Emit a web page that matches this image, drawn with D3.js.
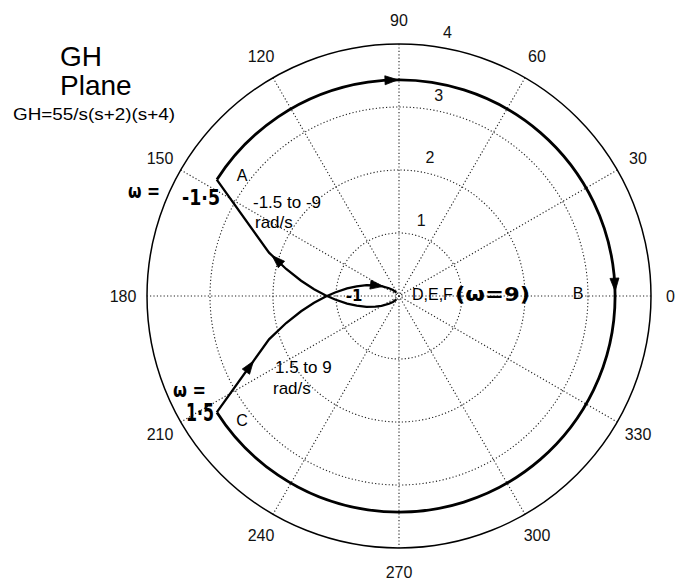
<!DOCTYPE html>
<html><head><meta charset="utf-8">
<script src="https://cdn.jsdelivr.net/npm/d3@7"></script>
<style>body{margin:0;background:#fff}svg{display:block}</style>
</head><body><svg id="c" width="676" height="582"></svg>
<script>
// ---------- data ----------
const angleTicks = [0, 30, 60, 90, 120, 150, 180, 210, 240, 270, 300, 330];
const angleTickLabels = ["0", "30", "60", "90", "120", "150", "180", "210", "240", "270", "300", "330"];
const ringValues = [1, 2, 3, 4];
const ringLabels = ["1", "2", "3", "4"];
const rMax = 4;

// positive-frequency branch, omega = 1.5 .. 9 rad/s  (Re, Im of GH)
const omegaPos = [1.5, 2, 2.2, 2.4, 2.6, 2.8, 3, 3.3, 3.6, 4, 4.5, 5, 6, 7, 9];
const rePos = [-2.893, -2.063, -1.791, -1.554, -1.348, -1.169, -1.015, -0.824, -0.672, -0.516, -0.375, -0.278, -0.159, -0.096, -0.040];
const imPos = [-1.848, -0.688, -0.429, -0.242, -0.107, -0.011, 0.056, 0.120, 0.154, 0.172, 0.170, 0.157, 0.123, 0.094, 0.054];

// negative-frequency branch, omega = -1.5 .. -9 rad/s
const omegaNeg = [-1.5, -2, -2.2, -2.4, -2.6, -2.8, -3, -3.3, -3.6, -4, -4.5, -5, -6, -7, -9];
const reNeg = [-2.893, -2.063, -1.791, -1.554, -1.348, -1.169, -1.015, -0.824, -0.672, -0.516, -0.375, -0.278, -0.159, -0.096, -0.040];
const imNeg = [1.848, 0.688, 0.429, 0.242, 0.107, 0.011, -0.056, -0.120, -0.154, -0.172, -0.170, -0.157, -0.123, -0.094, -0.054];

// large arc A -> B -> C (mapping of the small indentation around s = 0)
const arcRadius = 3.43;
const arcStartDeg = 147.4;
const arcEndDeg = -147.4;
const arcArrowDeg = [92, 3];

// arrows on the branches
const branchArrowSeg = [0, 1, 10];
const branchArrowFrac = [0.63, 0.45, 0.25];
const branchArrowBranch = ["pos", "neg", "pos"];
const branchArrowReverse = [false, true, false];

// ---------- drawing ----------
const svg = d3.select("#c");
svg.append("rect").attr("width", 676).attr("height", 582).attr("fill", "#fff");
const cx = 399, cy = 296, R = 252;
const x = d3.scaleLinear().domain([-rMax, rMax]).range([cx - R, cx + R]);
const y = d3.scaleLinear().domain([-rMax, rMax]).range([cy + R, cy - R]);
const r = d3.scaleLinear().domain([0, rMax]).range([0, R]);
const rad = d => d * Math.PI / 180;
const px = (v, deg) => x(v * Math.cos(rad(deg)));
const py = (v, deg) => y(v * Math.sin(rad(deg)));
const FONT = "Liberation Sans, Arial, Helvetica, sans-serif";
const HAND = "DejaVu Sans, sans-serif";

const grid = svg.append("g").attr("stroke", "#222").attr("stroke-width", 1.1)
  .attr("stroke-dasharray", "1.2,2.2").attr("fill", "none");
// spokes
grid.selectAll("line").data(angleTicks.filter(a => a < 180)).join("line")
  .attr("x1", a => px(rMax, a)).attr("y1", a => py(rMax, a))
  .attr("x2", a => px(rMax, a + 180)).attr("y2", a => py(rMax, a + 180));
// dotted rings
grid.selectAll("circle").data(ringValues.filter(v => v < rMax)).join("circle")
  .attr("cx", cx).attr("cy", cy).attr("r", v => r(v));
// outer solid circle
svg.append("circle").attr("cx", cx).attr("cy", cy).attr("r", r(rMax))
  .attr("fill", "none").attr("stroke", "#000").attr("stroke-width", 1.5);

// angle labels
svg.append("g").selectAll("text").data(angleTicks).join("text")
  .attr("x", a => Math.min(670.5, cx + (R + 24) * Math.cos(rad(a))))
  .attr("y", a => cy - (R + 24) * Math.sin(rad(a)))
  .attr("text-anchor", "middle").attr("dominant-baseline", "central")
  .attr("font-family", FONT).attr("font-size", 16).attr("fill", "#111")
  .text((a, i) => angleTickLabels[i]);

// radial labels
svg.append("g").selectAll("text").data(ringValues).join("text")
  .attr("x", v => px(v, 82) + 13.5).attr("y", v => py(v, 82) - 13.5)
  .attr("text-anchor", "middle").attr("dominant-baseline", "central")
  .attr("font-family", FONT).attr("font-size", 16).attr("fill", "#111")
  .text((v, i) => ringLabels[i]);

// curves
const line = d3.line().x(d => x(d[0])).y(d => y(d[1]));
const posPts = rePos.map((v, i) => [v, imPos[i]]);
const negPts = reNeg.map((v, i) => [v, imNeg[i]]);
svg.append("path").attr("d", line(posPts)).attr("fill", "none")
  .attr("stroke", "#000").attr("stroke-width", 2.3).attr("stroke-linejoin", "miter");
svg.append("path").attr("d", line(negPts)).attr("fill", "none")
  .attr("stroke", "#000").attr("stroke-width", 2.3).attr("stroke-linejoin", "miter");
const p = d3.path();
p.arc(cx, cy, r(arcRadius), -rad(arcStartDeg), -rad(arcEndDeg), false);
svg.append("path").attr("d", p.toString()).attr("fill", "none")
  .attr("stroke", "#000").attr("stroke-width", 2.8);

// arrowheads
function arrow(sx, sy, dx, dy) {
  const L = 13, W = 4.5, n = Math.hypot(dx, dy), ux = dx / n, uy = dy / n;
  const tx = sx + ux * L / 2, ty = sy + uy * L / 2;
  const bx = sx - ux * L / 2, by = sy - uy * L / 2;
  svg.append("path").attr("fill", "#000").attr("stroke", "#000").attr("stroke-width", 0.8)
    .attr("d", `M${tx},${ty}L${bx - uy * W},${by + ux * W}L${bx + uy * W},${by - ux * W}Z`);
}
branchArrowSeg.forEach((s, i) => {
  const pts = branchArrowBranch[i] === "pos" ? posPts : negPts;
  const a = pts[s], b = pts[s + 1], t = branchArrowFrac[i];
  const sx = x(a[0] + (b[0] - a[0]) * t), sy = y(a[1] + (b[1] - a[1]) * t);
  let dx = x(b[0]) - x(a[0]), dy = y(b[1]) - y(a[1]);
  if (branchArrowReverse[i]) { dx = -dx; dy = -dy; }
  arrow(sx, sy, dx, dy);
});
arcArrowDeg.forEach(a => {
  arrow(px(arcRadius, a), py(arcRadius, a), Math.sin(rad(a)), Math.cos(rad(a)));
});

// annotations
function txt(s, xx, yy, size, opts = {}) {
  const t = svg.append("text").attr("x", xx).attr("y", yy)
    .attr("font-family", opts.family || FONT).attr("font-size", size)
    .attr("fill", "#000").attr("text-anchor", opts.anchor || "start")
    .attr("font-weight", opts.weight || "normal").text(s);
  if (opts.len) t.attr("textLength", opts.len).attr("lengthAdjust", "spacingAndGlyphs");
  return t;
}
txt("GH", 60, 66, 28);
txt("Plane", 60, 95, 28);
txt("GH=55/s(s+2)(s+4)", 13, 120, 16, {len: 162});
txt("A", 242, 181, 16, {anchor: "middle"});
txt("B", 578, 299, 16, {anchor: "middle"});
txt("C", 242, 426, 16, {anchor: "middle"});
txt("-1.5 to -9", 253, 208, 17);
txt("rad/s", 255, 228, 17);
txt("1.5 to 9", 275, 373, 17);
txt("rad/s", 273, 394, 17);
txt("D,E,F", 412, 300, 16);
txt("(ω=9)", 455, 301, 20, {family: HAND, weight: "bold", len: 75});
txt("ω =", 128, 198, 20, {family: HAND, weight: "bold", len: 32});
txt("-1·5", 182, 205, 22, {family: HAND, weight: "bold", len: 38});
txt("ω =", 173, 397, 20, {family: HAND, weight: "bold", len: 33});
txt("1·5", 186, 421, 24, {family: HAND, weight: "bold", len: 28});
txt("-1", 354, 301, 15, {family: HAND, weight: "bold", anchor: "middle"});
</script></body></html>
